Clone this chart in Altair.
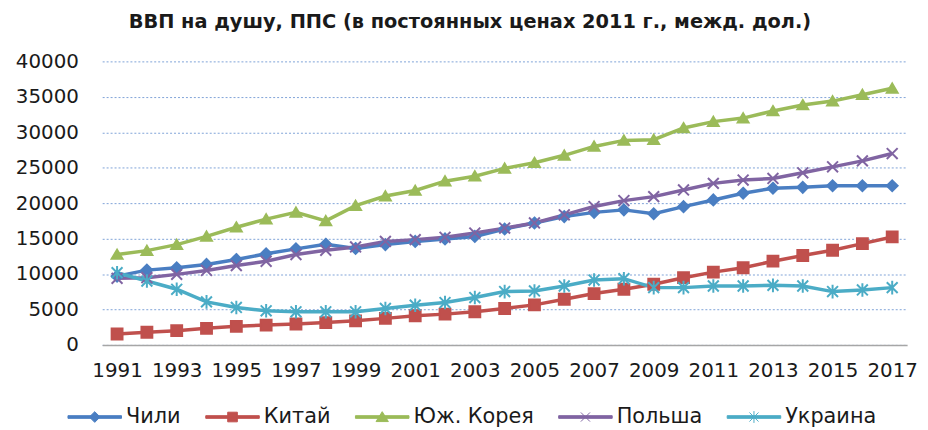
import altair as alt
import pandas as pd

years = list(range(1991, 2018))
countries = ["Чили", "Китай", "Юж. Корея", "Польша", "Украина"]
colors = ["#4A7EC2", "#C0504D", "#9BBB59", "#8064A2", "#4BACC6"]

chile = [9700, 10550, 10880, 11350, 12050, 12850, 13550, 14200, 13600, 14150, 14600, 14950, 15300, 16350,
         17200, 18100, 18700, 19050, 18500, 19500, 20450, 21400, 22100, 22230, 22450, 22450, 22450]
china = [1540, 1780, 2010, 2340, 2620, 2800, 2950, 3150, 3400, 3740, 4110, 4340, 4670, 5140,
         5650, 6440, 7240, 7850, 8550, 9480, 10270, 10880, 11810, 12610, 13350, 14290, 15230]
korea = [12750, 13300, 14150, 15300, 16600, 17750, 18700, 17500, 19650, 21000, 21780, 23100, 23800, 24900,
         25700, 26750, 28000, 28850, 28950, 30600, 31500, 32000, 33000, 33850, 34400, 35300, 36200]
poland = [9400, 9480, 9950, 10500, 11200, 11800, 12750, 13350, 13820, 14600, 14850, 15180, 15780, 16480,
          17200, 18350, 19520, 20360, 20920, 21860, 22790, 23260, 23490, 24280, 25120, 25960, 27000]
ukraine = [10180, 9010, 7850, 6070, 5280, 4810, 4670, 4670, 4670, 5140, 5600, 5980, 6680, 7520,
           7610, 8310, 9150, 9340, 8080, 8080, 8310, 8310, 8400, 8310, 7520, 7750, 8080]

series = [chile, china, korea, poland, ukraine]
rows = []
for name, vals in zip(countries, series):
    for y, v in zip(years, vals):
        rows.append({"year": y, "country": name, "value": v})
df = pd.DataFrame(rows)

marker_paths = [
    "M0,-1L1,0L0,1L-1,0Z",
    "M-1,-1H1V1H-1Z",
    "M0,-0.9L1,0.8H-1Z",
    "M-1,-1L1,1M-1,1L1,-1",
    "M-1,-1L1,1M-1,1L1,-1M0,-1.25L0,1.25",
]
bar = "M-1,-0.05H1V0.05H-1Z"
legend_paths = [
    bar + "M0,-0.2L0.2,0L0,0.2L-0.2,0Z",
    bar + "M-0.18,-0.18H0.18V0.18H-0.18Z",
    bar + "M0,-0.2L0.23,0.17H-0.23Z",
    bar + "M-0.17,-0.17L0.17,0.17M-0.17,0.17L0.17,-0.17",
    bar + "M-0.17,-0.17L0.17,0.17M-0.17,0.17L0.17,-0.17M0,-0.22L0,0.22",
]

odd_years = [y for y in years if y % 2 == 1]

x_enc = alt.X(
    "year:O",
    scale=alt.Scale(type="point", padding=0.5),
    axis=alt.Axis(
        title=None, values=odd_years, labelAngle=0, ticks=False, grid=False,
        domainColor="#A6A6A6", domainWidth=1.5, labelFont="DejaVu Sans", labelFontSize=20,
        labelColor="#1A1A1A", labelPadding=16, labelOverlap=False,
    ),
)
y_enc = alt.Y(
    "value:Q",
    scale=alt.Scale(domain=[0, 40000], nice=False),
    axis=alt.Axis(
        title=None, values=list(range(0, 40001, 5000)), format="d", ticks=False, domain=False,
        grid=True, gridColor="#7FA3D8", gridDash=[2, 2], gridWidth=1,
        labelFont="DejaVu Sans", labelFontSize=20, labelColor="#1A1A1A", labelPadding=24,
    ),
)

color_scale = alt.Scale(domain=countries, range=colors)

lines = alt.Chart(df).mark_line(strokeWidth=3.5).encode(
    x=x_enc, y=y_enc,
    color=alt.Color("country:N", scale=color_scale, legend=None),
    detail="country:N",
)

points = alt.Chart(df).mark_point(filled=True, size=120, strokeWidth=2, opacity=1).encode(
    x=x_enc, y=y_enc,
    fill=alt.Fill("country:N", scale=color_scale, legend=None),
    stroke=alt.Stroke("country:N", scale=color_scale, legend=None),
    shape=alt.Shape("country:N", scale=alt.Scale(domain=countries, range=marker_paths), legend=None),
)

leg = alt.Legend(
    title=None, orient="none", direction="horizontal", legendX=-35, legendY=331,
    symbolSize=2916, symbolStrokeWidth=1, labelFont="DejaVu Sans", labelFontSize=21,
    labelColor="#1A1A1A", labelOffset=4, columnPadding=22, padding=0, symbolOpacity=1,
)

legend_layer = alt.Chart(df).transform_filter("false").mark_point(filled=True, size=2916).encode(
    x=x_enc, y=y_enc,
    fill=alt.Fill("country:N", scale=alt.Scale(domain=countries, range=colors), legend=leg),
    stroke=alt.Stroke("country:N", scale=alt.Scale(domain=countries, range=colors), legend=leg),
    shape=alt.Shape("country:N", scale=alt.Scale(domain=countries, range=legend_paths), legend=leg),
)

chart = alt.layer(lines, points, legend_layer).resolve_scale(
    fill="independent", stroke="independent", shape="independent"
).resolve_legend(
    fill="independent", stroke="independent", shape="independent"
).properties(
    width=812, height=286,
    title=alt.Title(
        "ВВП на душу, ППС (в постоянных ценах 2011 г., межд. дол.)",
        font="DejaVu Sans", fontSize=19.5, fontWeight="bold", color="#1A1A1A",
        anchor="middle", dx=-35, offset=19,
    ),
    autosize=alt.AutoSizeParams(type="none"),
    padding={"left": 95, "top": 52, "right": 13, "bottom": 84},
).configure_view(stroke=None)

chart.save("out.html", embed_options={"renderer": "svg", "actions": False})
